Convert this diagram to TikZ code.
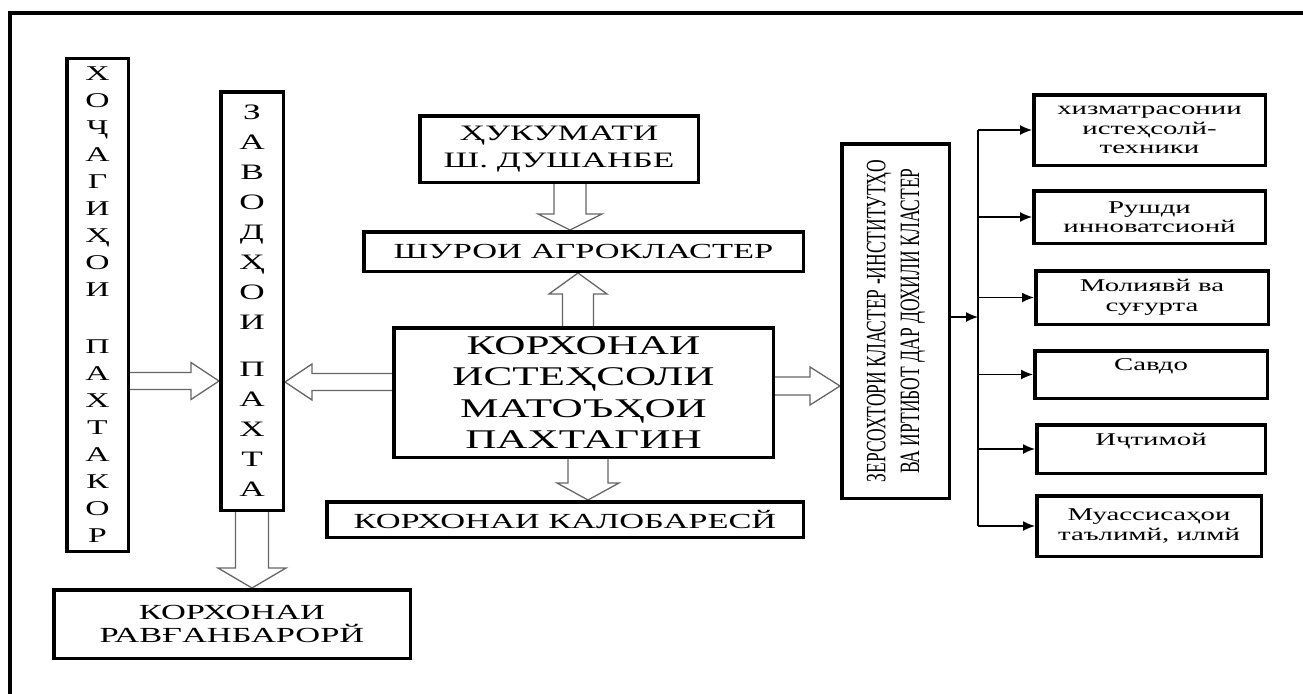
\documentclass[tikz,border=0pt]{standalone}
\usepackage{fontspec}
\usepackage{graphicx}
\setmainfont{Liberation Serif}[FakeStretch=1.6]
\newfontfamily\plainserif{Liberation Serif}
\usetikzlibrary{calc,arrows.meta}
\pgfdeclarelayer{bg}
\pgfsetlayers{bg,main}
\newcommand{\harr}[5]{\draw[barrow] let \p1=(#1), \p2=(#2), \n1={sign(\x2-\x1)}, \n2={\x2-\n1*#5} in
 (\x1,\y1+#3) -- (\n2,\y1+#3) -- (\n2,\y1+#4) -- (\x2,\y1) -- (\n2,\y1-#4) -- (\n2,\y1-#3) -- (\x1,\y1-#3) -- cycle;}
\newcommand{\varr}[5]{\draw[barrow] let \p1=(#1), \p2=(#2), \n1={sign(\y2-\y1)}, \n2={\y2-\n1*#5} in
 (\x1+#3,\y1) -- (\x1+#3,\n2) -- (\x1+#4,\n2) -- (\x1,\y2) -- (\x1-#4,\n2) -- (\x1-#3,\n2) -- (\x1-#3,\y1) -- cycle;}
\begin{document}
\begin{tikzpicture}[x=1pt,y=-1pt,
  box/.style={draw=black,line width=3.5pt,fill=white,inner sep=0pt,align=center},
  barrow/.style={draw=black!60,line width=1.3pt,fill=white,line join=miter},
  thinarr/.style={draw=black,line width=1.4pt,-{Latex[length=12pt,width=10pt]}},
  f21/.style={font=\fontsize{21}{27}\selectfont},
  f22/.style={font=\fontsize{22}{30}\selectfont},
  fmain/.style={font=\fontsize{27}{31.5}\selectfont},
  fhuk/.style={font=\fontsize{22}{27}\selectfont},
  fmid/.style={font=\fontsize{21.5}{23}\selectfont},
  fsmall/.style={font=\fontsize{18}{19.5}\selectfont}]
\useasboundingbox (0,0) rectangle (1303,693);
\clip (0,0) rectangle (1303,693);
\begin{pgfonlayer}{bg}
\fill[white] (0,0) rectangle (1303,693);
\end{pgfonlayer}
\draw[line width=4.5pt] (10,720) -- (10,13) -- (1330,13);

% left column
\node[box,f21,minimum width=61.5pt,minimum height=492.5pt] (b1) at (97.5,305)
  {Х\\О\\Ҷ\\А\\Г\\И\\Ҳ\\О\\И\\[30pt]П\\А\\Х\\Т\\А\\К\\О\\Р};
\node[box,f22,minimum width=62.5pt,minimum height=418.5pt] (b2) at (252,301)
  {З\\А\\В\\О\\Д\\Ҳ\\О\\И\\[17pt]П\\А\\Х\\Т\\А};
\node[box,fmid,minimum width=356.5pt,minimum height=68.5pt] (rav) at (232,624)
  {КОРХОНАИ\\РАВҒАНБАРОРЙ};

% centre column
\node[box,fhuk,minimum width=278.5pt,minimum height=66.5pt] (huk) at (559,149)
  {ҲУКУМАТИ\\Ш. ДУШАНБЕ};
\node[box,fmid,minimum width=439.5pt,minimum height=39.5pt] (shur) at (583.5,251.5)
  {ШУРОИ АГРОКЛАСТЕР};
\node[box,fmain,minimum width=379.5pt,minimum height=129.5pt] (main) at (583.5,392.5)
  {КОРХОНАИ\\ИСТЕҲСОЛИ\\МАТОЪҲОИ\\ПАХТАГИН};
\node[box,fmid,minimum width=476.5pt,minimum height=35.5pt] (kal) at (565,519.5)
  {КОРХОНАИ КАЛОБАРЕСЙ};

% right vertical box
\node[box,minimum width=107.5pt,minimum height=354.5pt] (zer) at (895.5,321)
  {\rotatebox{90}{\scalebox{1}[1.6]{\plainserif\fontsize{17.5}{21}\selectfont
   \begin{tabular}{@{}c@{}}ЗЕРСОХТОРИ КЛАСТЕР -ИНСТИТУТҲО\\ВА ИРТИБОТ ДАР ДОХИЛИ КЛАСТЕР\end{tabular}}}};

% right column
\node[box,fsmall,minimum width=231.5pt,minimum height=70.5pt] (rA) at (1149.5,130)
  {хизматрасонии\\истеҳсолй-\\техники};
\node[box,fsmall,minimum width=231.5pt,minimum height=52.5pt] (rB) at (1149.5,217)
  {Рушди\\инноватсионй};
\node[box,fsmall,minimum width=232.5pt,minimum height=53.5pt] (rC) at (1152,297.5)
  {Молиявй ва\\суғурта};
\node[box,fsmall,minimum width=232.5pt,minimum height=47.5pt] (rD) at (1151,374.5)
  {Савдо\\\mbox{}};
\node[box,fsmall,minimum width=228.5pt,minimum height=48.5pt] (rE) at (1151,449)
  {Иҷтимой\\\mbox{}};
\node[box,fsmall,minimum width=224.5pt,minimum height=60.5pt] (rF) at (1149,526)
  {Муассисаҳои\\таълимй, илмй};

% helper coordinates
\coordinate (ya) at (0,381);
\coordinate (yb) at (0,382);
\coordinate (yc) at (0,386);
\coordinate (xa) at (570,0);
\coordinate (xb) at (578,0);
\coordinate (xc) at (588,0);
\coordinate (bx) at (978,317);

% block arrows (behind boxes)
\begin{pgfonlayer}{bg}
\harr{b1 |- ya}{b2.west |- ya}{8.5pt}{18.5pt}{28pt}
\harr{main |- yb}{b2.east |- yb}{8.5pt}{18pt}{27pt}
\varr{b2}{b2 |- rav.north}{16.5pt}{34pt}{20pt}
\varr{xa |- huk}{xa |- shur.north}{16pt}{32pt}{16pt}
\varr{xb |- main}{xb |- shur.south}{15.5pt}{29pt}{21pt}
\varr{xc |- main}{xc |- kal.north}{20pt}{31pt}{17pt}
\harr{main |- yc}{zer.west |- yc}{9pt}{19pt}{30pt}
\end{pgfonlayer}

% distribution bus
\draw[thinarr] (zer.east |- bx) -- (bx);
\draw[line width=1.4pt] (bx |- rA.west) -- (bx |- rF.west);
\foreach \r in {rA,rB,rC,rD,rE,rF}
  \draw[thinarr] (bx |- \r.west) -- (\r.west);
\end{tikzpicture}
\end{document}
